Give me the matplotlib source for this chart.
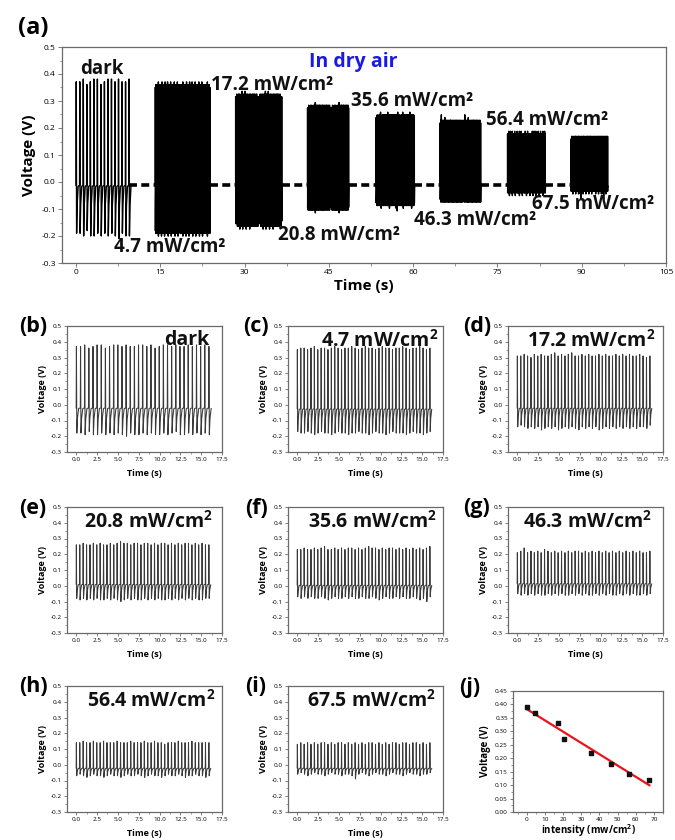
import numpy as np
import matplotlib
matplotlib.use("Agg")
import matplotlib.pyplot as plt
from matplotlib.ticker import MultipleLocator, FormatStrFormatter

plt.rcParams['font.family'] = ['Open Sans', 'DejaVu Sans']
plt.rcParams['axes.unicode_minus'] = False
plt.rcParams['mathtext.fontset'] = 'custom'
plt.rcParams['mathtext.rm'] = 'Open Sans'
plt.rcParams['mathtext.bf'] = 'Open Sans:bold'
plt.rcParams['mathtext.default'] = 'bf'

# ---- light intensities (mW/cm2), "dark" = 0 ----
cond_names = ['dark', '4.7', '17.2', '20.8', '35.6', '46.3', '56.4', '67.5']
intensity = [0, 4.7, 17.2, 20.8, 35.6, 46.3, 56.4, 67.5]
peak_voltage = [0.39, 0.37, 0.33, 0.27, 0.22, 0.18, 0.14, 0.12]

# ---- spike trains, 16 s windows (b)-(i): peak / trough of every spike ----
win_first, win_last = 0.0, 15.9
peaks_dark = [0.37, 0.37, 0.38, 0.36, 0.37, 0.38, 0.38, 0.36, 0.37, 0.38,
              0.38, 0.37, 0.38, 0.37, 0.37, 0.38, 0.38, 0.37, 0.38, 0.36,
              0.37, 0.38, 0.38, 0.37, 0.38, 0.37, 0.37, 0.38, 0.37, 0.38,
              0.37, 0.38, 0.37]
troughs_dark = [-0.18, -0.18, -0.19, -0.17, -0.19, -0.19, -0.18, -0.19, -0.18, -0.19,
                -0.18, -0.19, -0.20, -0.18, -0.19, -0.19, -0.18, -0.19, -0.18, -0.19,
                -0.19, -0.18, -0.19, -0.18, -0.17, -0.19, -0.19, -0.18, -0.19, -0.18,
                -0.19, -0.18, -0.19]
peaks_47 = [0.35, 0.36, 0.36, 0.35, 0.36, 0.37, 0.35, 0.36, 0.36, 0.35,
            0.36, 0.37, 0.36, 0.35, 0.36, 0.36, 0.37, 0.36, 0.35, 0.36,
            0.37, 0.36, 0.36, 0.35, 0.36, 0.37, 0.36, 0.36, 0.35, 0.36,
            0.36, 0.37, 0.36, 0.35, 0.36, 0.36, 0.37, 0.36, 0.35, 0.36]
troughs_47 = [-0.17, -0.18, -0.18, -0.17, -0.18, -0.19, -0.18, -0.17, -0.18, -0.18,
              -0.19, -0.18, -0.17, -0.18, -0.18, -0.19, -0.18, -0.18, -0.17, -0.18,
              -0.18, -0.19, -0.18, -0.17, -0.18, -0.18, -0.19, -0.18, -0.17, -0.18,
              -0.18, -0.18, -0.19, -0.18, -0.17, -0.18, -0.18, -0.19, -0.18, -0.17]
peaks_172 = [0.31, 0.31, 0.32, 0.31, 0.30, 0.32, 0.31, 0.32, 0.31, 0.31,
             0.32, 0.33, 0.31, 0.32, 0.31, 0.32, 0.33, 0.31, 0.31, 0.32,
             0.31, 0.32, 0.31, 0.31, 0.32, 0.31, 0.32, 0.31, 0.31, 0.32,
             0.31, 0.32, 0.31, 0.32, 0.31, 0.31, 0.32, 0.31, 0.30, 0.31]
troughs_172 = [-0.14, -0.13, -0.14, -0.15, -0.14, -0.15, -0.14, -0.16, -0.15, -0.14,
               -0.15, -0.14, -0.16, -0.15, -0.14, -0.15, -0.14, -0.15, -0.16, -0.14,
               -0.15, -0.14, -0.15, -0.14, -0.16, -0.15, -0.14, -0.15, -0.14, -0.15,
               -0.14, -0.15, -0.14, -0.15, -0.14, -0.15, -0.14, -0.14, -0.15, -0.13]
peaks_208 = [0.26, 0.26, 0.27, 0.26, 0.26, 0.27, 0.26, 0.27, 0.26, 0.26,
             0.27, 0.26, 0.27, 0.28, 0.27, 0.27, 0.26, 0.27, 0.27, 0.26,
             0.27, 0.27, 0.26, 0.27, 0.26, 0.27, 0.27, 0.26, 0.27, 0.26,
             0.27, 0.26, 0.27, 0.27, 0.26, 0.27, 0.26, 0.27, 0.26, 0.26]
troughs_208 = [-0.08, -0.09, -0.08, -0.09, -0.08, -0.09, -0.08, -0.09, -0.09, -0.08,
               -0.09, -0.08, -0.09, -0.10, -0.09, -0.08, -0.09, -0.08, -0.09, -0.09,
               -0.08, -0.09, -0.08, -0.09, -0.08, -0.09, -0.09, -0.08, -0.09, -0.08,
               -0.09, -0.08, -0.09, -0.08, -0.09, -0.08, -0.09, -0.09, -0.08, -0.08]
peaks_356 = [0.23, 0.23, 0.24, 0.23, 0.23, 0.24, 0.23, 0.24, 0.25, 0.23,
             0.23, 0.24, 0.23, 0.24, 0.23, 0.24, 0.24, 0.23, 0.24, 0.23,
             0.24, 0.25, 0.24, 0.24, 0.23, 0.24, 0.23, 0.24, 0.24, 0.23,
             0.24, 0.23, 0.24, 0.23, 0.24, 0.23, 0.24, 0.23, 0.24, 0.25]
troughs_356 = [-0.07, -0.08, -0.07, -0.08, -0.07, -0.08, -0.08, -0.07, -0.08, -0.09,
               -0.08, -0.07, -0.08, -0.08, -0.07, -0.08, -0.07, -0.08, -0.08, -0.07,
               -0.08, -0.08, -0.07, -0.08, -0.09, -0.08, -0.07, -0.08, -0.08, -0.07,
               -0.08, -0.07, -0.08, -0.08, -0.07, -0.08, -0.09, -0.08, -0.10, -0.07]
peaks_463 = [0.21, 0.22, 0.24, 0.21, 0.22, 0.21, 0.22, 0.21, 0.23, 0.22,
             0.21, 0.22, 0.21, 0.22, 0.21, 0.22, 0.21, 0.22, 0.22, 0.21,
             0.22, 0.21, 0.22, 0.21, 0.22, 0.21, 0.22, 0.21, 0.22, 0.21,
             0.22, 0.21, 0.22, 0.21, 0.22, 0.21, 0.22, 0.21, 0.21, 0.22]
troughs_463 = [-0.05, -0.06, -0.05, -0.06, -0.05, -0.06, -0.05, -0.06, -0.06, -0.05,
               -0.06, -0.05, -0.06, -0.05, -0.06, -0.06, -0.05, -0.06, -0.05, -0.06,
               -0.05, -0.06, -0.06, -0.05, -0.06, -0.05, -0.06, -0.05, -0.06, -0.06,
               -0.05, -0.06, -0.05, -0.06, -0.05, -0.06, -0.06, -0.05, -0.06, -0.05]
peaks_564 = [0.14, 0.14, 0.15, 0.14, 0.14, 0.15, 0.14, 0.14, 0.15, 0.14,
             0.14, 0.14, 0.15, 0.14, 0.14, 0.14, 0.15, 0.14, 0.14, 0.14,
             0.15, 0.14, 0.14, 0.15, 0.14, 0.14, 0.13, 0.14, 0.14, 0.14,
             0.15, 0.14, 0.14, 0.14, 0.15, 0.14, 0.14, 0.14, 0.14, 0.14]
troughs_564 = [-0.07, -0.06, -0.07, -0.08, -0.07, -0.06, -0.07, -0.07, -0.08, -0.07,
               -0.06, -0.07, -0.07, -0.08, -0.07, -0.06, -0.07, -0.07, -0.06, -0.07,
               -0.08, -0.07, -0.06, -0.07, -0.07, -0.08, -0.07, -0.06, -0.07, -0.07,
               -0.06, -0.07, -0.08, -0.07, -0.07, -0.06, -0.07, -0.07, -0.08, -0.07]
peaks_675 = [0.13, 0.14, 0.13, 0.14, 0.13, 0.14, 0.13, 0.14, 0.14, 0.13,
             0.14, 0.13, 0.14, 0.14, 0.13, 0.14, 0.13, 0.14, 0.13, 0.14,
             0.13, 0.14, 0.14, 0.13, 0.14, 0.13, 0.14, 0.13, 0.14, 0.14,
             0.13, 0.14, 0.14, 0.13, 0.14, 0.14, 0.13, 0.14, 0.13, 0.14]
troughs_675 = [-0.06, -0.05, -0.06, -0.07, -0.06, -0.05, -0.06, -0.06, -0.07, -0.06,
               -0.05, -0.06, -0.06, -0.07, -0.06, -0.06, -0.07, -0.09, -0.06, -0.05,
               -0.06, -0.07, -0.06, -0.05, -0.06, -0.06, -0.07, -0.06, -0.05, -0.06,
               -0.06, -0.07, -0.06, -0.05, -0.06, -0.06, -0.07, -0.06, -0.06, -0.05]
win_peaks = [peaks_dark, peaks_47, peaks_172, peaks_208,
             peaks_356, peaks_463, peaks_564, peaks_675]
win_troughs = [troughs_dark, troughs_47, troughs_172, troughs_208,
               troughs_356, troughs_463, troughs_564, troughs_675]
win_base = [-0.02, -0.025, -0.02, 0.01, 0.005, 0.015, -0.02, -0.02]

# ---- full run in dry air (a): burst windows and envelope ----
run_start = [0.0, 14.1, 28.4, 41.2, 53.4, 64.8, 76.8, 88.1]
run_end = [9.4, 23.8, 36.6, 48.5, 60.2, 72.0, 83.5, 94.6]
run_peak = [0.375, 0.36, 0.32, 0.28, 0.245, 0.225, 0.18, 0.165]
run_trough = [-0.195, -0.19, -0.16, -0.10, -0.085, -0.07, -0.04, -0.035]
run_spikes = [16, 90, 80, 70, 70, 70, 65, 65]
run_base = -0.012

# shape of one spike, as fractions of the spike interval
SHAPE_T = [0.0, 0.06, 0.16, 0.32, 0.6]

TRACE = '#3a3a3a'
FRAME = '#6a6a6a'


def spike_trace(t0, t1, peaks, troughs, base):
    n = len(peaks)
    times = np.linspace(t0, t1, n)
    step = (t1 - t0) / (n - 1)
    xs, ys = [], []
    for k, t in enumerate(times):
        p = peaks[k]
        q = troughs[k % len(troughs)]
        xs += [t + f * step for f in SHAPE_T]
        ys += [base, p, q, q + 0.6 * (base - q), base - 0.004]
    return np.array(xs), np.array(ys)


def style_axes(ax, tick_size, xmaj, ymaj, xfmt, yfmt):
    for s in ax.spines.values():
        s.set_color(FRAME)
        s.set_linewidth(0.9)
    ax.xaxis.set_major_locator(MultipleLocator(xmaj))
    ax.xaxis.set_minor_locator(MultipleLocator(xmaj / 2))
    ax.yaxis.set_major_locator(MultipleLocator(ymaj))
    ax.yaxis.set_minor_locator(MultipleLocator(ymaj / 2))
    ax.xaxis.set_major_formatter(FormatStrFormatter(xfmt))
    ax.yaxis.set_major_formatter(FormatStrFormatter(yfmt))
    ax.tick_params(which='major', length=2.2, width=0.6, color=FRAME,
                   labelsize=tick_size, pad=1.5)
    ax.tick_params(which='minor', length=1.2, width=0.5, color=FRAME)


W, H = 675, 840
fig = plt.figure(figsize=(W / 100, H / 100), dpi=100)


def px_axes(left, top, width, height):
    return fig.add_axes([left / W, 1 - (top + height) / H, width / W, height / H])


# ---------------- (a) full run ----------------
ax = px_axes(62, 47, 604, 216)
for i in range(len(run_start) - 1):
    ax.plot([run_end[i], run_start[i + 1]], [run_base, run_base], color='black',
            lw=2.6, ls=(0, (2.2, 1.2)), solid_capstyle='butt')
for i in range(len(run_start)):
    wiggle = np.array(win_peaks[i]) - np.mean(win_peaks[i])
    dips = np.array(win_troughs[i]) - np.mean(win_troughs[i])
    pk = np.resize(wiggle, run_spikes[i]) + run_peak[i]
    tr = np.resize(dips, run_spikes[i]) + run_trough[i]
    xs, ys = spike_trace(run_start[i], run_end[i], pk, tr, run_base)
    ax.plot(xs, ys, color='black', lw=1.0)
ax.set_xlim(-2.5, 105)
ax.set_ylim(-0.3, 0.5)
style_axes(ax, 6, 15, 0.1, '%d', '%.1f')
ax.tick_params(which='major', length=3)
ax.tick_params(which='minor', length=1.8)
ax.set_xlabel('Time (s)', fontsize=11, fontweight='bold', labelpad=2)
ax.set_ylabel('Voltage (V)', fontsize=11, fontweight='bold', labelpad=4)

tkw = dict(fontsize=13.5, fontweight='bold', color='#111111', va='center')
ax.text(4.6, 0.42, 'dark', ha='center', **tkw)
ax.text(24.0, 0.36, '17.2 mW/cm²', ha='left', **tkw)
ax.text(48.9, 0.30, '35.6 mW/cm²', ha='left', **tkw)
ax.text(73.0, 0.231, '56.4 mW/cm²', ha='left', **tkw)
ax.text(81.2, -0.082, '67.5 mW/cm²', ha='left', **tkw)
ax.text(60.1, -0.141, '46.3 mW/cm²', ha='left', **tkw)
ax.text(35.9, -0.197, '20.8 mW/cm²', ha='left', **tkw)
ax.text(6.7, -0.241, '4.7 mW/cm²', ha='left', **tkw)
ax.text(49.3, 0.444, 'In dry air', ha='center', va='center', fontsize=14,
        fontweight='bold', color='#1a1ae6')

fig.text(33 / W, 1 - 28 / H, '(a)', fontsize=17, fontweight='bold',
         ha='center', va='center')

# ---------------- (b)-(i) 16 s windows ----------------
col_left = [67, 288, 508]
row_top = [326, 507, 686]
tags = ['(b)', '(c)', '(d)', '(e)', '(f)', '(g)', '(h)', '(i)']
tag_x = [33, 256, 477]
title_x = [0.92, 0.97, 0.95, 0.94, 0.96, 0.93, 0.96, 0.95]

for i in range(8):
    r, c = divmod(i, 3)
    ax = px_axes(col_left[c], row_top[r], 155, 126)
    xs, ys = spike_trace(win_first, win_last, win_peaks[i], win_troughs[i], win_base[i])
    ax.plot(xs, ys, color=TRACE, lw=0.75)
    ax.set_xlim(-1.1, 17.5)
    ax.set_ylim(-0.3, 0.5)
    style_axes(ax, 4.6, 2.5, 0.1, '%.1f', '%.1f')
    ax.set_xlabel('Time (s)', fontsize=6.5, fontweight='bold', labelpad=5)
    ax.set_ylabel('Voltage (V)', fontsize=6.5, fontweight='bold', labelpad=3)
    label = 'dark' if i == 0 else cond_names[i] + r' mW/cm$^2$'
    ax.text(title_x[i], 0.885, label, transform=ax.transAxes, ha='right',
            va='center', fontsize=14, fontweight='bold', color='#111111')
    fig.text(tag_x[c] / W, 1 - (row_top[r] + 1) / H, tags[i], fontsize=15.5,
             fontweight='bold', ha='center', va='center')

# ---------------- (j) peak voltage vs intensity ----------------
ax = px_axes(513, 691, 150, 121)
slope, icpt = np.polyfit(intensity, peak_voltage, 1)
fit_x = np.array([intensity[0], intensity[-1]])
ax.plot(fit_x, slope * fit_x + icpt, color='#e8141b', lw=1.6)
ax.scatter(intensity, peak_voltage, s=7, marker='s', color='#111111', zorder=3)
ax.set_xlim(-7.5, 75)
ax.set_ylim(0, 0.45)
style_axes(ax, 4.6, 10, 0.05, '%d', '%.2f')
ax.set_xlabel(r'intensity (mw/cm$^2$)', fontsize=7, fontweight='bold', labelpad=0)
ax.set_ylabel('Voltage (V)', fontsize=7, fontweight='bold', labelpad=3)
fig.text(470 / W, 1 - 688 / H, '(j)', fontsize=15.5, fontweight='bold',
         ha='center', va='center')

fig.savefig('out.png', dpi=100)
